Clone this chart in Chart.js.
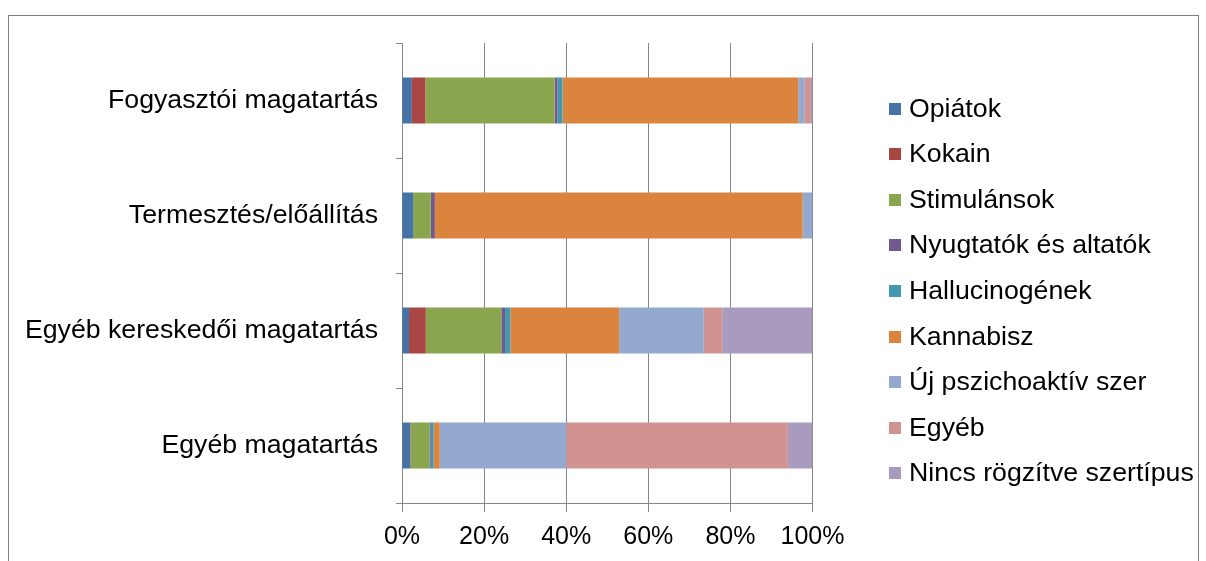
<!DOCTYPE html>
<html>
<head>
<meta charset="utf-8">
<script src="https://cdn.jsdelivr.net/npm/chart.js@4"></script>
<style>
  body { margin: 0; background: #fff; }
  #frame { position: absolute; left: 8px; top: 15px; width: 1191px; height: 600px; border: 1px solid #7f7f7f; box-sizing: border-box; }
  #chart { position: absolute; left: 0; top: 0; }
  #legend { position: absolute; left: 0; top: 0; font-family: "Liberation Sans", Arial, sans-serif; font-size: 26.7px; color: #000; }
  .item { position: absolute; left: 889px; white-space: nowrap; }
  .box { position: absolute; left: 0; width: 12px; height: 12px; }
  .label { position: absolute; left: 20px; line-height: 30px; }
</style>
</head>
<body>
<div id="frame"></div>
<canvas id="chart" width="1206" height="561"></canvas>
<div id="legend"></div>
<script>
const categories = ["Fogyasztói magatartás", "Termesztés/előállítás", "Egyéb kereskedői magatartás", "Egyéb magatartás"];

const seriesNames = ["Opiátok", "Kokain", "Stimulánsok", "Nyugtatók és altatók", "Hallucinogének", "Kannabisz", "Új pszichoaktív szer", "Egyéb", "Nincs rögzítve szertípus"];
const seriesColors = ["#4572A7", "#AA4643", "#89A54E", "#71588F", "#4198AF", "#DB843D", "#93A9CF", "#D19392", "#A99BBD"];

// percent share per category, same order as categories
const opiatok = [2.4, 2.7, 1.7, 2.0];
const kokain = [3.3, 0, 4.1, 0.1];
const stimulansok = [31.5, 4.3, 18.4, 4.6];
const nyugtatok = [0.7, 1.0, 0.9, 0.3];
const hallucinogenek = [1.2, 0, 1.3, 0.7];
const kannabisz = [57.4, 89.6, 26.5, 1.5];
const ujSzer = [1.5, 2.4, 20.6, 30.8];
const egyeb = [1.6, 0, 4.5, 54.0];
const nincs = [0.4, 0, 22.0, 6.0];

const seriesValues = [opiatok, kokain, stimulansok, nyugtatok, hallucinogenek, kannabisz, ujSzer, egyeb, nincs];
const xTicks = [0, 20, 40, 60, 80, 100];

const FONT = "'Liberation Sans', Arial, sans-serif";
const GRID = "#868686";

const datasets = seriesNames.map((name, i) => ({
  label: name,
  data: seriesValues[i],
  backgroundColor: seriesColors[i],
  borderWidth: 0,
  barPercentage: 0.4,
  categoryPercentage: 1.0,
}));

new Chart(document.getElementById("chart"), {
  type: "bar",
  data: { labels: categories, datasets: datasets },
  options: {
    indexAxis: "y",
    responsive: false,
    animation: false,
    layout: { padding: { top: 43, right: 393.5, bottom: 0, left: 0 } },
    plugins: { legend: { display: false }, tooltip: { enabled: false } },
    scales: {
      x: {
        stacked: true,
        min: 0,
        max: 100,
        afterBuildTicks: (scale) => { scale.ticks = xTicks.map((v) => ({ value: v })); },
        afterFit: (scale) => { scale.height = 58; },
        ticks: {
          callback: (v) => v + "%",
          font: { family: FONT, size: 25 },
          color: "#000",
          padding: 10,
          maxRotation: 0,
        },
        grid: { color: GRID, lineWidth: 1, tickLength: 9 },
        border: { color: GRID },
      },
      y: {
        stacked: true,
        afterFit: (scale) => { scale.width = 402; },
        ticks: {
          font: { family: FONT, size: 26.7 },
          color: "#000",
          padding: 18,
        },
        grid: { color: GRID, drawOnChartArea: false, tickLength: 6 },
        border: { color: GRID },
      },
    },
  },
});

const legend = document.getElementById("legend");
seriesNames.forEach((name, i) => {
  const cy = 108.5 + i * 45.6;
  const item = document.createElement("div");
  item.className = "item";
  item.style.top = cy + "px";
  item.innerHTML = `<div class="box" style="top:-6px;background:${seriesColors[i]}"></div><div class="label" style="top:-16px">${name}</div>`;
  legend.appendChild(item);
});
</script>
</body>
</html>
